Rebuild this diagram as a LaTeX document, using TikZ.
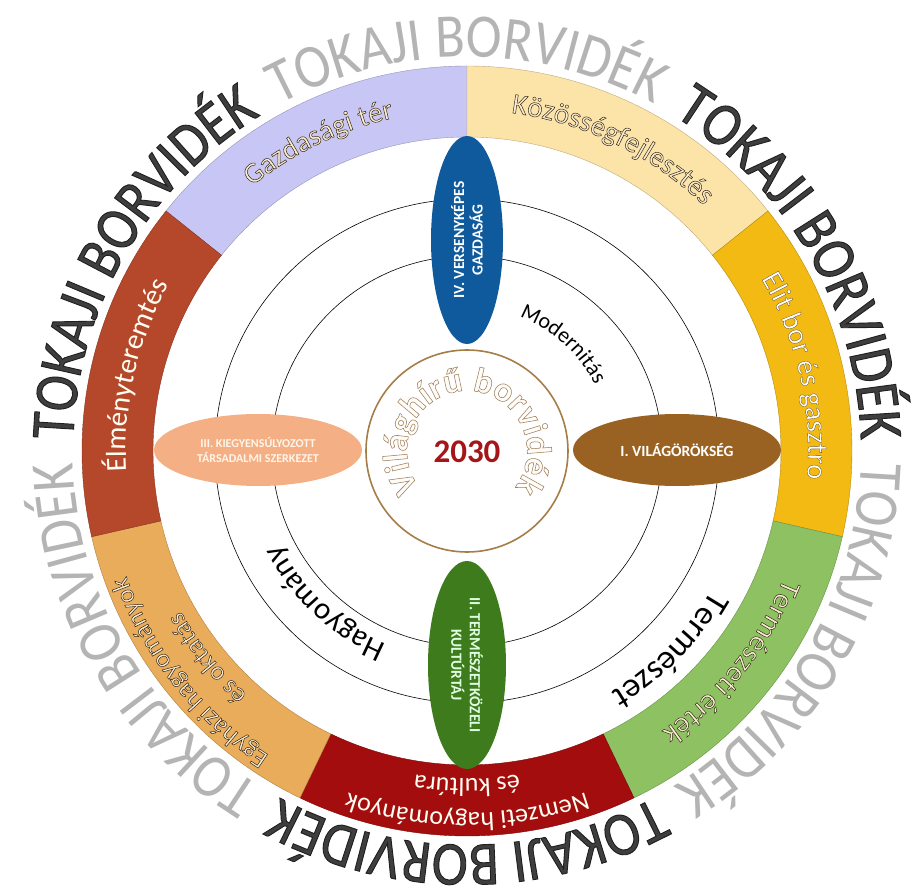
\documentclass[tikz,border=0pt]{standalone}
\usepackage{fontspec}
\setmainfont{Carlito}
\newfontfamily\tokajfont[FakeStretch=0.87]{Carlito}
\usetikzlibrary{shapes.geometric, decorations.text}

\definecolor{gazdcol}{RGB}{200,198,245}
\definecolor{kozoscol}{RGB}{252,228,168}
\definecolor{elitcol}{RGB}{242,186,18}
\definecolor{termcol}{RGB}{141,193,98}
\definecolor{nemzcol}{RGB}{163,13,13}
\definecolor{egyhcol}{RGB}{233,172,90}
\definecolor{elmcol}{RGB}{181,71,43}
\definecolor{versblue}{RGB}{15,90,156}
\definecolor{kulturgreen}{RGB}{62,123,28}
\definecolor{vilagbrown}{RGB}{153,98,34}
\definecolor{tarsapeach}{RGB}{244,176,132}
\definecolor{tkdark}{RGB}{62,62,62}
\definecolor{tklight}{RGB}{180,180,180}
\definecolor{cream}{RGB}{248,236,210}
\definecolor{rimbrown}{RGB}{165,125,70}
\definecolor{evred}{RGB}{165,22,26}
\definecolor{hollowfill}{RGB}{255,252,248}

\newcommand\seglabel{\fontsize{29}{34}\selectfont}
\newcommand\twolabel{\fontsize{26}{30}\selectfont}
\newcommand\outerlabel{\tokajfont\fontsize{62}{70}\selectfont}
% körvonalas betű: kitöltés + vonal
\newcommand\edged[2]{\special{pdf:literal direct 2 Tr #1 w #2 RG}}
\newcommand\plainstroke{\special{pdf:literal direct 0 Tr}}

\tikzset{
  sector/.style={line width=0.4pt},
  arctext/.style={decorate, decoration={text along path, text align=center, text={#1}}},
  pillar/.style={ellipse, inner sep=0pt, minimum width=208pt, minimum height=72pt,
    text=white, align=center, font=\plainstroke\bfseries\fontsize{15.5}{18.5}\selectfont}
}

\begin{document}
\begin{tikzpicture}[x=1pt, y=1pt]
\useasboundingbox (-467,-443) rectangle (451,451);

% külső felirat
\path[arctext={|\outerlabel\color{tkdark}\edged{0.9}{0.12 0.12 0.12}|TOKAJI BORVIDÉK}] (180:394) arc[start angle=180, end angle=120, radius=394];
\path[arctext={|\outerlabel\color{tklight}\plainstroke|TOKAJI BORVIDÉK}] (120:394) arc[start angle=120, end angle=60, radius=394];
\path[arctext={|\outerlabel\color{tkdark}\edged{0.9}{0.12 0.12 0.12}|TOKAJI BORVIDÉK}] (60:394) arc[start angle=60, end angle=0, radius=394];
\path[arctext={|\outerlabel\color{tklight}\plainstroke|TOKAJI BORVIDÉK}] (0:394) arc[start angle=0, end angle=-60, radius=394];
\path[arctext={|\outerlabel\color{tkdark}\edged{0.9}{0.12 0.12 0.12}|TOKAJI BORVIDÉK}] (-60:394) arc[start angle=-60, end angle=-120, radius=394];
\path[arctext={|\outerlabel\color{tklight}\plainstroke|TOKAJI BORVIDÉK}] (-120:394) arc[start angle=-120, end angle=-180, radius=394];

% színes gyűrű
\filldraw[sector, fill=gazdcol, draw=gazdcol!75!black] (90:314) arc[start angle=90, end angle=141.43, radius=314] -- (141.43:385) arc[start angle=141.43, end angle=90, radius=385] -- cycle;
\filldraw[sector, fill=kozoscol, draw=kozoscol!75!black] (38.57:314) arc[start angle=38.57, end angle=90, radius=314] -- (90:385) arc[start angle=90, end angle=38.57, radius=385] -- cycle;
\filldraw[sector, fill=elitcol, draw=elitcol!75!black] (-12.86:314) arc[start angle=-12.86, end angle=38.57, radius=314] -- (38.57:385) arc[start angle=38.57, end angle=-12.86, radius=385] -- cycle;
\filldraw[sector, fill=termcol, draw=termcol!75!black] (-64.29:314) arc[start angle=-64.29, end angle=-12.86, radius=314] -- (-12.86:385) arc[start angle=-12.86, end angle=-64.29, radius=385] -- cycle;
\filldraw[sector, fill=nemzcol, draw=nemzcol!75!black] (-115.71:314) arc[start angle=-115.71, end angle=-64.29, radius=314] -- (-64.29:385) arc[start angle=-64.29, end angle=-115.71, radius=385] -- cycle;
\filldraw[sector, fill=egyhcol, draw=egyhcol!75!black] (-167.14:314) arc[start angle=-167.14, end angle=-115.71, radius=314] -- (-115.71:385) arc[start angle=-115.71, end angle=-167.14, radius=385] -- cycle;
\filldraw[sector, fill=elmcol, draw=elmcol!75!black] (141.43:314) arc[start angle=141.43, end angle=192.86, radius=314] -- (192.86:385) arc[start angle=192.86, end angle=141.43, radius=385] -- cycle;

% gyűrű feliratai
\path[arctext={|\seglabel\color{cream}\edged{0.5}{0.22 0.16 0.08}|Gazdasági tér}] (141.43:341) arc[start angle=141.43, end angle=90, radius=341];
\path[arctext={|\seglabel\color{cream}\edged{0.5}{0.22 0.16 0.08}|Közösségfejlesztés}] (90:341) arc[start angle=90, end angle=38.57, radius=341];
\path[arctext={|\seglabel\color{white}\edged{0.35}{0.45 0.35 0.15}|Elit bor és gasztro}] (38.57:341) arc[start angle=38.57, end angle=-12.86, radius=341];
\path[arctext={|\seglabel\color{cream}\edged{0.5}{0.20 0.18 0.08}|Természeti érték}] (-12.86:341) arc[start angle=-12.86, end angle=-64.29, radius=341];
\path[arctext={|\twolabel\color{white!95!yellow}\plainstroke|Nemzeti hagyományok}] (-64.29:362) arc[start angle=-64.29, end angle=-115.71, radius=362];
\path[arctext={|\twolabel\color{white!95!yellow}\plainstroke|és kultúra}] (-64.29:328) arc[start angle=-64.29, end angle=-115.71, radius=328];
\path[arctext={|\twolabel\color{cream}\edged{0.5}{0.22 0.15 0.08}|Egyházi hagyományok}] (-115.71:363) arc[start angle=-115.71, end angle=-167.14, radius=363];
\path[arctext={|\twolabel\color{cream}\edged{0.5}{0.22 0.15 0.08}|és oktatás}] (-115.71:328) arc[start angle=-115.71, end angle=-167.14, radius=328];
\path[arctext={|\seglabel\color{white!94!yellow}\plainstroke|Élményteremtés}] (192.86:341) arc[start angle=192.86, end angle=141.43, radius=341];

% belső körök
\draw[line width=0.6pt] (0,0) circle[radius=252];
\draw[line width=0.6pt] (0,0) circle[radius=195];
\node (kozep) [circle, draw=rimbrown, line width=1.6pt, fill=white, minimum size=202pt, inner sep=0pt] at (0,0) {};

% pillérek
\node (vers) [pillar, fill=versblue, rotate=90] at (0,211) {IV. VERSENYKÉPES\\GAZDASÁG};
\node (kultur) [pillar, fill=kulturgreen, rotate=-90, minimum height=78pt, text=white!88!green] at (0,-214) {II. TERMÉSZETKÖZELI\\KULTÚRTÁJ};
\node (vilag) [pillar, fill=vilagbrown] at (210,1) {I. VILÁGÖRÖKSÉG};
\node (tarsad) [pillar, fill=tarsapeach, text=white!92!orange, font=\plainstroke\bfseries\fontsize{12}{15}\selectfont] at (-209,1) {III. KIEGYENSÚLYOZOTT\\TÁRSADALMI SZERKEZET};

% értékek
\path[arctext={|\fontsize{22}{26}\selectfont\color{black}\plainstroke|Modernitás}] (88:144) arc[start angle=88, end angle=8, radius=144];
\path[arctext={|\fontsize{34}{40}\selectfont\color{black}\plainstroke|Természet}] (-14.5:281) arc[start angle=-14.5, end angle=-74.5, radius=281];
\path[arctext={|\fontsize{31}{36}\selectfont\color{black}\plainstroke|Hagyomány}] (-103:209) arc[start angle=-103, end angle=-163, radius=209];

\node (evszam) [text=evred, font=\plainstroke\bfseries\fontsize{33}{38}\selectfont] at (0,-1) {2030};

% körív felirat
\path[arctext={|\bfseries\fontsize{35}{40}\selectfont\color{hollowfill}\edged{0.55}{0.62 0.50 0.36}|Világhírű borvidék}] (240:60) arc[start angle=240, end angle=-60, radius=60];
\end{tikzpicture}
\end{document}
